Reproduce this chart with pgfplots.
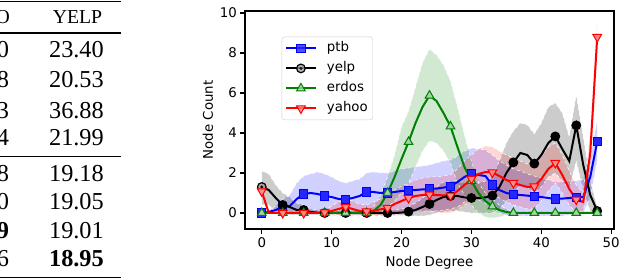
\documentclass[border=0pt]{standalone}
\usepackage{fontspec}
\usepackage{pgfplots}
\pgfplotsset{compat=1.18}
\usepackage{pgfplotstable}
\usepgfplotslibrary{fillbetween}
\newfontfamily\chartfont{DejaVu Sans}
\newfontfamily\tabfont{Liberation Serif}
\definecolor{mgreen}{rgb}{0,0.5,0}
\pgfdeclareplotmark{odot}{%
  \pgfpathcircle{\pgfpointorigin}{\pgfplotmarksize}%
  \pgfusepathqfillstroke
  \pgfpathcircle{\pgfpointorigin}{0.4\pgfplotmarksize}%
  \pgfsetfillcolor{black}\pgfusepathqfill
}
\pgfplotstableread{
x m lo hi
0 0.00 -0.05 0.05
1 0.05 -0.05 0.15
2 0.15 -0.05 0.35
3 0.30 -0.05 0.70
4 0.35 -0.05 0.90
5 0.70 0.00 1.50
6 0.95 0.05 1.85
7 1.00 0.05 1.95
8 0.95 0.00 2.05
9 0.85 -0.05 1.95
10 0.80 -0.05 1.80
11 0.70 -0.10 1.60
12 0.68 -0.10 1.50
13 0.75 -0.10 1.60
14 0.85 -0.10 1.70
15 1.05 0.00 2.00
16 1.05 0.00 2.05
17 1.00 0.00 2.00
18 1.00 0.00 2.00
19 1.05 0.00 2.10
20 1.10 0.00 2.20
21 1.12 0.00 2.25
22 1.15 0.05 2.30
23 1.18 0.05 2.35
24 1.20 0.10 2.40
25 1.22 0.10 2.50
26 1.27 0.15 2.60
27 1.33 0.20 2.65
28 1.55 0.30 2.85
29 1.80 0.55 3.10
30 1.97 0.75 3.25
31 1.90 0.65 3.20
32 1.85 0.50 3.15
33 1.40 0.15 2.90
34 1.15 0.00 2.60
35 1.00 -0.10 2.40
36 0.93 -0.15 2.20
37 0.90 -0.15 2.10
38 0.87 -0.15 1.95
39 0.83 -0.15 1.85
40 0.80 -0.15 1.75
41 0.75 -0.15 1.65
42 0.70 -0.15 1.55
43 0.72 -0.15 1.55
44 0.75 -0.10 1.60
45 0.78 -0.10 1.60
46 0.80 0.00 1.70
47 1.80 0.80 2.90
48 3.57 2.60 4.60
}\ptb
\pgfplotstableread{
x m lo hi
0 1.30 0.40 2.10
1 1.15 0.40 1.95
2 0.75 0.10 1.40
3 0.40 -0.10 1.00
4 0.30 -0.10 0.80
5 0.15 -0.10 0.50
6 0.15 -0.10 0.40
7 0.05 -0.10 0.20
8 0.02 -0.10 0.15
9 0.00 -0.10 0.12
10 0.00 -0.12 0.12
11 0.00 -0.12 0.12
12 0.00 -0.12 0.12
13 0.00 -0.12 0.12
14 0.00 -0.12 0.12
15 0.00 -0.12 0.12
16 0.00 -0.12 0.12
17 0.00 -0.12 0.12
18 0.00 -0.12 0.12
19 0.00 -0.12 0.15
20 0.02 -0.12 0.20
21 0.07 -0.15 0.30
22 0.15 -0.15 0.50
23 0.30 -0.15 0.75
24 0.45 -0.10 1.00
25 0.65 0.00 1.30
26 0.80 0.05 1.55
27 0.85 0.10 1.60
28 0.85 0.10 1.60
29 0.78 0.05 1.50
30 0.75 0.00 1.50
31 0.75 0.00 1.50
32 0.78 0.00 1.60
33 0.87 0.00 1.80
34 1.30 0.20 2.60
35 2.00 0.60 3.50
36 2.53 1.00 4.10
37 3.00 1.40 4.50
38 2.90 1.30 4.40
39 2.47 1.00 3.95
40 2.90 1.30 4.50
41 3.50 1.80 5.30
42 3.83 2.00 5.50
43 3.20 1.60 5.00
44 2.60 1.20 3.80
45 4.38 2.60 5.90
46 2.40 1.10 3.80
47 0.90 0.10 1.60
48 0.10 -0.10 0.30
}\yelp
\pgfplotstableread{
x m lo hi
0 0.00 -0.05 0.05
1 0.00 -0.05 0.05
2 0.00 -0.05 0.05
3 0.00 -0.05 0.05
4 0.00 -0.05 0.05
5 0.00 -0.05 0.05
6 0.00 -0.05 0.05
7 0.00 -0.05 0.05
8 0.00 -0.05 0.05
9 0.00 -0.05 0.05
10 0.00 -0.05 0.05
11 0.00 -0.05 0.05
12 0.00 -0.05 0.05
13 0.00 -0.05 0.05
14 0.00 -0.05 0.05
15 0.00 -0.05 0.05
16 0.10 -0.05 0.30
17 0.40 0.00 0.90
18 1.00 0.30 1.80
19 1.80 0.60 2.90
20 2.70 1.00 4.30
21 3.55 1.50 5.10
22 4.50 2.30 6.30
23 5.30 3.10 7.50
24 5.87 3.60 8.20
25 5.60 3.50 7.90
26 5.00 3.10 7.40
27 4.33 2.50 6.60
28 3.30 1.50 5.30
29 2.30 0.90 3.90
30 1.60 0.40 2.60
31 1.00 0.00 1.50
32 0.60 -0.20 1.00
33 0.33 -0.25 0.70
34 0.15 -0.20 0.40
35 0.05 -0.10 0.20
36 0.00 -0.05 0.05
37 0.00 -0.05 0.05
38 0.00 -0.05 0.05
39 0.00 -0.05 0.05
40 0.00 -0.05 0.05
41 0.00 -0.05 0.05
42 0.00 -0.05 0.05
43 0.00 -0.05 0.05
44 0.00 -0.05 0.05
45 0.00 -0.05 0.05
46 0.00 -0.05 0.05
47 0.00 -0.05 0.05
48 0.00 -0.05 0.05
}\erdos
\pgfplotstableread{
x m lo hi
0 1.08 1.00 1.15
1 0.00 -0.05 0.05
2 0.00 -0.05 0.05
3 0.00 -0.05 0.05
4 0.00 -0.05 0.05
5 0.00 -0.05 0.05
6 0.00 -0.05 0.05
7 0.00 -0.05 0.05
8 0.00 -0.05 0.08
9 0.03 -0.05 0.15
10 0.10 -0.10 0.35
11 0.20 -0.10 0.55
12 0.30 -0.10 0.70
13 0.20 -0.10 0.60
14 0.10 -0.10 0.45
15 0.08 -0.15 0.40
16 0.12 -0.15 0.55
17 0.18 -0.15 0.70
18 0.25 -0.20 0.90
19 0.45 -0.10 1.15
20 0.60 0.00 1.35
21 0.75 0.10 1.50
22 0.85 0.10 1.65
23 0.90 0.10 1.75
24 0.92 0.10 1.80
25 0.90 0.05 1.80
26 0.88 0.00 1.85
27 0.87 0.00 1.90
28 1.10 0.15 2.20
29 1.40 0.40 2.60
30 1.70 0.60 2.90
31 1.95 0.80 3.20
32 2.05 0.90 3.35
33 2.03 0.90 3.30
34 1.85 0.75 3.10
35 1.65 0.55 2.90
36 1.50 0.40 2.75
37 1.40 0.30 2.60
38 1.30 0.20 2.45
39 1.33 0.20 2.50
40 1.70 0.60 2.85
41 2.20 1.10 3.30
42 2.50 1.50 3.50
43 1.90 1.00 2.90
44 1.20 0.40 2.10
45 0.67 0.00 1.40
46 0.55 0.10 1.00
47 3.00 2.00 4.00
48 8.80 8.00 9.70
}\yahoo
\begin{document}
\begin{tikzpicture}
% ---- table fragment ----
\begin{scope}[every node/.style={inner sep=0pt, font=\tabfont\fontsize{24.4}{28}\selectfont}]
\clip (0,0) rectangle (620bp,280bp);
\draw[line width=1.3bp] (0,278.3bp) -- (120.7bp,278.3bp);
\draw[line width=2bp] (0,246.7bp) -- (120.7bp,246.7bp);
\draw[line width=0.9bp] (0,123.3bp) -- (120.7bp,123.3bp);
\draw[line width=1.5bp] (0,2.7bp) -- (120.7bp,2.7bp);
\node[anchor=base east, font=\tabfont\fontsize{19.8}{24}\selectfont] at (10bp,256.65bp) {YAHOO};
\node[anchor=base, font=\tabfont\fontsize{19.8}{24}\selectfont] at (77.5bp,256.65bp) {YELP};
\node[anchor=base east] at (9.3bp,222.45bp) {23.10};
\node[anchor=base east] at (104bp,222.45bp) {23.40};
\node[anchor=base east] at (9.3bp,192.45bp) {20.38};
\node[anchor=base east] at (104bp,192.45bp) {20.53};
\node[anchor=base east] at (9.3bp,161.75bp) {36.53};
\node[anchor=base east] at (104bp,161.75bp) {36.88};
\node[anchor=base east] at (9.3bp,134.45bp) {22.04};
\node[anchor=base east] at (104bp,134.45bp) {21.99};
\node[anchor=base east] at (9.3bp,98.45bp) {19.48};
\node[anchor=base east] at (104bp,98.45bp) {19.18};
\node[anchor=base east] at (9.3bp,70.05bp) {19.30};
\node[anchor=base east] at (104bp,70.05bp) {19.05};
\node[anchor=base east] at (9.3bp,41.75bp) {\bfseries 19.19};
\node[anchor=base east] at (104bp,41.75bp) {19.01};
\node[anchor=base east] at (9.3bp,13.45bp) {19.26};
\node[anchor=base east] at (104bp,13.45bp) {\bfseries 18.95};
\end{scope}
% ---- chart ----
\begin{axis}[
  at={(245bp,51bp)}, anchor=south west,
  scale only axis, width=369bp, height=218bp,
  xmin=-2.4, xmax=50.4, ymin=-0.8, ymax=10.1,
  xtick={0,10,...,50}, ytick={0,2,...,10},
  tick align=outside, xtick pos=bottom, ytick pos=left,
  major tick length=4.7bp,
  axis line style={line width=1.07bp},
  every tick/.style={line width=1.07bp, black},
  tick label style={font=\chartfont\fontsize{13.4}{16}\selectfont},
  /pgf/number format/assume math mode=true,
  xlabel={Node Degree}, ylabel={Node Count},
  label style={font=\chartfont\fontsize{13.4}{16}\selectfont},
  xlabel style={yshift=-2.5bp},
  legend cell align=left,
  legend style={at={(0.0995,0.882)}, anchor=north west,
    font=\chartfont\fontsize{13.4}{16}\selectfont,
    draw=black!20, rounded corners=3bp, fill=white, fill opacity=0.8, text opacity=1,
    inner xsep=3bp, inner ysep=3bp, row sep=3bp,
    nodes={inner sep=2bp, text height=10bp, text depth=3bp},
    /tikz/every odd column/.append style={column sep=8bp}},
  legend image code/.code={\draw[mark repeat=2,mark phase=2,#1] plot coordinates {(0bp,0bp) (15bp,0bp) (30bp,0bp)};},
]
% bands
\addplot[draw=white, dashed, line width=0.5bp, forget plot, name path=pu] table[x=x,y=hi]{\ptb};
\addplot[draw=white, dashed, line width=0.5bp, forget plot, name path=pl] table[x=x,y=lo]{\ptb};
\addplot[fill=blue, fill opacity=0.18, draw=none, forget plot] fill between[of=pu and pl];
\addplot[draw=white, dashed, line width=0.5bp, forget plot, name path=yu] table[x=x,y=hi]{\yelp};
\addplot[draw=white, dashed, line width=0.5bp, forget plot, name path=yl] table[x=x,y=lo]{\yelp};
\addplot[fill=black, fill opacity=0.2, draw=none, forget plot] fill between[of=yu and yl];
\addplot[draw=white, dashed, line width=0.5bp, forget plot, name path=eu] table[x=x,y=hi]{\erdos};
\addplot[draw=white, dashed, line width=0.5bp, forget plot, name path=el] table[x=x,y=lo]{\erdos};
\addplot[fill=mgreen, fill opacity=0.18, draw=none, forget plot] fill between[of=eu and el];
\addplot[draw=white, dashed, line width=0.5bp, forget plot, name path=hu] table[x=x,y=hi]{\yahoo};
\addplot[draw=white, dashed, line width=0.5bp, forget plot, name path=hl] table[x=x,y=lo]{\yahoo};
\addplot[fill=red, fill opacity=0.16, draw=none, forget plot] fill between[of=hu and hl];
% lines
\addplot[blue, line width=2bp, mark=square*, mark repeat=3, mark size=4.2bp,
  mark options={fill=blue!85, draw=blue, line width=1bp, solid}] table[x=x,y=m]{\ptb};
\addlegendentry{ptb}
\addplot[black, line width=2bp, mark=odot, mark repeat=3, mark size=4.3bp,
  mark options={fill=black!35, draw=black, line width=1.2bp, solid}] table[x=x,y=m]{\yelp};
\addlegendentry{yelp}
\addplot[mgreen, line width=2bp, mark=triangle*, mark repeat=3, mark size=5bp,
  mark options={fill=mgreen!35, draw=mgreen, line width=1bp, solid}] table[x=x,y=m]{\erdos};
\addlegendentry{erdos}
\addplot[red, line width=2bp, mark=triangle*, mark repeat=3, mark size=5bp,
  mark options={fill=red!45, draw=red, line width=1bp, solid, rotate=180}] table[x=x,y=m]{\yahoo};
\addlegendentry{yahoo}
\end{axis}
\pgfresetboundingbox
\useasboundingbox (0,0) rectangle (620bp,280bp);
\end{tikzpicture}
\end{document}
